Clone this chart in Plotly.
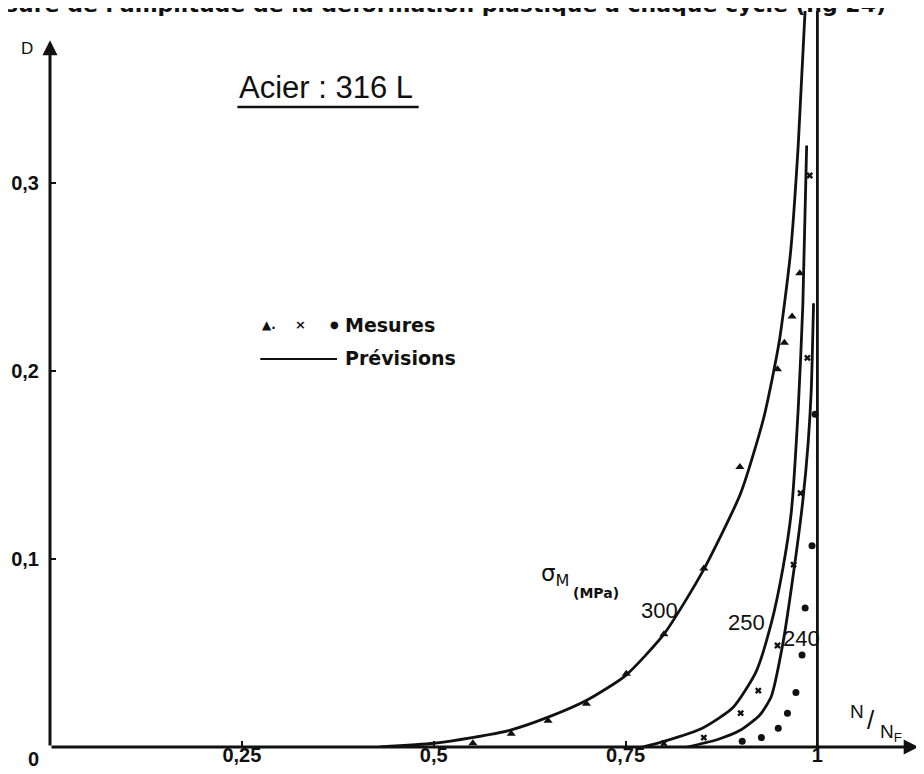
import plotly.graph_objects as go

# ---------------- data ----------------
# Predicted damage curves (Prévisions), sigma_M in MPa
curve300_x = [0.43, 0.5, 0.55, 0.6, 0.65, 0.7, 0.75, 0.8, 0.85, 0.9, 0.93, 0.95, 0.965, 0.975, 0.984]
curve300_d = [0.0, 0.002, 0.005, 0.009, 0.016, 0.025, 0.038, 0.06, 0.093, 0.135, 0.175, 0.215, 0.263, 0.32, 0.392]

curve250_x = [0.772, 0.80, 0.85, 0.89, 0.92, 0.94, 0.955, 0.966, 0.975, 0.981, 0.986]
curve250_d = [0.0, 0.003, 0.010, 0.021, 0.040, 0.066, 0.095, 0.125, 0.18, 0.235, 0.32]

curve240_x = [0.83, 0.87, 0.90, 0.925, 0.94, 0.955, 0.968, 0.981, 0.988, 0.992, 0.995]
curve240_d = [0.0, 0.004, 0.009, 0.017, 0.027, 0.055, 0.09, 0.131, 0.162, 0.19, 0.236]

asymptote_x = [1.0, 1.0]
asymptote_d = [0.0, 0.392]

# Measurements (Mesures)
meas300_x = [0.551, 0.601, 0.649, 0.699, 0.751, 0.80, 0.852, 0.899, 0.948, 0.957, 0.967, 0.977]
meas300_d = [0.002, 0.007, 0.014, 0.023, 0.039, 0.060, 0.095, 0.149, 0.201, 0.215, 0.229, 0.252]

meas250_x = [0.80, 0.852, 0.90, 0.923, 0.948, 0.969, 0.978, 0.987, 0.99]
meas250_d = [0.002, 0.005, 0.018, 0.030, 0.054, 0.097, 0.135, 0.207, 0.304]

meas240_x = [0.902, 0.927, 0.949, 0.961, 0.972, 0.980, 0.984, 0.993, 0.997]
meas240_d = [0.003, 0.005, 0.010, 0.018, 0.029, 0.049, 0.074, 0.107, 0.177]

x_tickvals = [0.25, 0.5, 0.75, 1.0]
x_ticktext = ["0,25", "0,5", "0,75", "1"]
y_tickvals = [0.1, 0.2, 0.3]
y_ticktext = ["0,1", "0,2", "0,3"]

stress_labels = ["300", "250", "240"]

# ---------------- figure ----------------
OFF = 8                      # page body margin
W, H = 924 - OFF, 774 - OFF
L, R, T, B = 47 - OFF, 3, 11 - OFF, 27
PW = W - L - R               # plot width (874)
PH = H - T - B               # plot height (736)
XMAX = 1.135
YMAX = 0.3915

BLACK = "#111111"
fig = go.Figure()

line_style = dict(color=BLACK, width=2.8, shape="spline", smoothing=0.6)
for cx, cd in [(curve300_x, curve300_d), (curve250_x, curve250_d), (curve240_x, curve240_d)]:
    fig.add_trace(go.Scatter(x=cx, y=cd, mode="lines", line=line_style,
                             showlegend=False, hoverinfo="skip"))
fig.add_trace(go.Scatter(x=asymptote_x, y=asymptote_d, mode="lines",
                         line=dict(color=BLACK, width=2.8), showlegend=False))

fig.add_trace(go.Scatter(x=meas300_x, y=meas300_d, mode="markers",
                         marker=dict(symbol="triangle-up", size=8, color=BLACK),
                         cliponaxis=False, showlegend=False))
fig.add_trace(go.Scatter(x=meas250_x, y=meas250_d, mode="markers",
                         marker=dict(symbol="x", size=6, color=BLACK),
                         cliponaxis=False, showlegend=False))
fig.add_trace(go.Scatter(x=meas240_x, y=meas240_d, mode="markers",
                         marker=dict(symbol="circle", size=7, color=BLACK),
                         cliponaxis=False, showlegend=False))


# screen pixel -> paper coordinates
def sx(px):
    return (px - OFF - L) / PW


def sy(py):
    return (T + PH - (py - OFF)) / PH


ann = []
# axes drawn as arrows
ann.append(dict(x=1.132, y=0, ax=0, ay=0, axref="x", ayref="y", xref="x", yref="y",
                text="", showarrow=True, arrowhead=2, arrowsize=1.0, arrowwidth=3,
                arrowcolor=BLACK, standoff=0, startstandoff=0))
ann.append(dict(x=0, y=0.376, ax=0, ay=0, axref="x", ayref="y", xref="x", yref="y",
                text="", showarrow=True, arrowhead=2, arrowsize=1.0, arrowwidth=3,
                arrowcolor=BLACK, standoff=0, startstandoff=0))


def txt(text, px, py, size, family="Liberation Sans, Arial, sans-serif", xanchor="center",
        bold=False):
    t = f"<b>{text}</b>" if bold else text
    return dict(x=sx(px), y=sy(py), xref="paper", yref="paper", text=t, showarrow=False,
                xanchor=xanchor, yanchor="middle",
                font=dict(size=size, family=family, color=BLACK))


LEG = "DejaVu Sans, sans-serif"
# clipped running text at the top of the page
ann.append(txt("sure de l'amplitude de la déformation plastique à chaque cycle (fig 24)",
               0, 4, 22, family=LEG, xanchor="left", bold=True))
# origin label and axis titles
ann.append(txt("0", 30, 759, 20, bold=True))
ann.append(txt("D", 24, 48, 17))
ann.append(txt("N", 857, 711, 19))
ann.append(txt("/", 871, 720, 26))
ann.append(txt("N<sub>F</sub>", 878, 733, 19, xanchor="left"))
# title
ann.append(txt("Acier : 316 L", 235, 87, 31, xanchor="left"))
# legend
ann.append(txt("▲.", 258, 325, 12, family=LEG, xanchor="left", bold=True))
ann.append(txt("×", 298, 325, 13, family=LEG, bold=True))
ann.append(txt("●", 332, 325, 10, family=LEG, bold=True))
ann.append(txt("Mesures", 341, 325, 19, family=LEG, xanchor="left", bold=True))
ann.append(txt("Prévisions", 341, 358, 19, family=LEG, xanchor="left", bold=True))
# stress labels
ann.append(txt("σ<sub>M</sub>", 538, 575, 23, family=LEG, xanchor="left"))
ann.append(txt("(MPa)", 570, 593, 14, family=LEG, xanchor="left", bold=True))
ann.append(txt(stress_labels[0], 659, 610, 22))
ann.append(txt(stress_labels[1], 746, 622, 22))
ann.append(txt(stress_labels[2], 801, 638, 22))

shapes = [
    dict(type="line", xref="paper", yref="paper", x0=sx(235), x1=sx(417), y0=sy(107), y1=sy(107),
         line=dict(color=BLACK, width=2.6)),
    dict(type="line", xref="paper", yref="paper", x0=sx(258), x1=sx(335), y0=sy(359), y1=sy(359),
         line=dict(color=BLACK, width=2.2)),
]

tickfont = dict(size=20, family="Liberation Sans, Arial, sans-serif", color=BLACK, weight="bold")
fig.update_layout(
    width=W, height=H,
    margin=dict(l=L, r=R, t=T, b=B, pad=0),
    paper_bgcolor="white", plot_bgcolor="white",
    annotations=ann, shapes=shapes,
    showlegend=False,
    xaxis=dict(range=[0, XMAX], showgrid=False, zeroline=False, showline=False,
               tickvals=x_tickvals, ticktext=x_ticktext, ticks="inside", ticklen=6,
               tickwidth=2, tickcolor=BLACK, ticklabelstandoff=-6, tickfont=tickfont),
    yaxis=dict(range=[0, YMAX], showgrid=False, zeroline=False, showline=False,
               tickvals=y_tickvals, ticktext=y_ticktext, ticks="inside", ticklen=6,
               tickwidth=2, tickcolor=BLACK, ticklabelstandoff=10, tickfont=tickfont),
)

fig.write_html("out.html")
